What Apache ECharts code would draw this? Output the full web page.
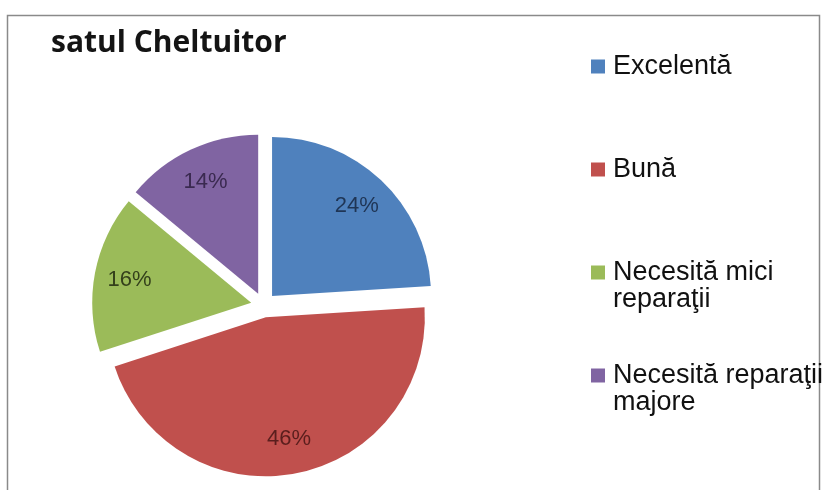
<!DOCTYPE html>
<html><head><meta charset="utf-8">
<script src="https://cdn.jsdelivr.net/npm/echarts@6/dist/echarts.min.js"></script>
<style>html,body{margin:0;padding:0;background:#fff}#c{width:823px;height:490px}</style>
</head><body><div id="c"></div>
<script>
const categories = ['Excelentă', 'Bună', 'Necesită mici reparaţii', 'Necesită reparaţii majore'];
const values = [24, 46, 16, 14];
const legendLabels = ['Excelentă', 'Bună', 'Necesită mici\nreparaţii', 'Necesită reparaţii\nmajore'];
const sliceColors = ['#4F81BD', '#C0504D', '#9BBB59', '#8064A2'];
const labelColors = ['#1F3555', '#5A1E1D', '#34401B', '#3A2A50'];
const titleText = 'satul Cheltuitor';

const chart = echarts.init(document.getElementById('c'), null, {renderer: 'canvas'});
const center = [263.5, 305];
const R = 159;
const offset = 12.5;
const pieData = categories.map((n, i) => ({name: n, value: values[i], selected: true, itemStyle: {color: sliceColors[i]}}));
const labelData = categories.map((n, i) => ({name: n, value: values[i], selected: true, label: {color: labelColors[i]}}));
const option = {
  animation: false,
  title: {text: titleText, left: 46, top: 23, textStyle: {fontFamily: 'Open Sans', fontWeight: 'bold', fontSize: 30, color: '#141414'}},
  legend: {
    orient: 'vertical', left: 586, top: 21, itemWidth: 14, itemHeight: 14, itemGap: 22, icon: 'rect', selectedMode: false,
    data: categories,
    formatter: n => {
      const l = legendLabels[categories.indexOf(n)];
      return l.indexOf('\n') >= 0 ? '\n' + l : '\n' + l + '\n ';
    },
    textStyle: {fontFamily: 'Liberation Sans', fontSize: 27, lineHeight: 27, color: '#111', padding: [0, 0, 0, 3]}
  },
  graphic: [{type: 'rect', silent: true, z: -1, shape: {x: 7.5, y: 15.5, width: 812, height: 500}, style: {fill: 'none', stroke: '#8a8a8a', lineWidth: 1.5}}],
  series: [
    {type: 'pie', center: center, radius: [0, R], startAngle: 90, selectedMode: 'multiple', selectedOffset: offset, silent: true,
      label: {show: false}, labelLine: {show: false}, emphasis: {disabled: true}, data: pieData},
    {type: 'pie', center: center, radius: [R * 0.52, R], startAngle: 90, selectedMode: 'multiple', selectedOffset: offset, silent: true,
      itemStyle: {color: 'rgba(0,0,0,0)'}, labelLine: {show: false}, emphasis: {disabled: true},
      label: {show: true, position: 'inside', formatter: '{c}%', fontFamily: 'Liberation Sans', fontSize: 22},
      data: labelData}
  ]
};
chart.setOption(option);
</script>
</body></html>
